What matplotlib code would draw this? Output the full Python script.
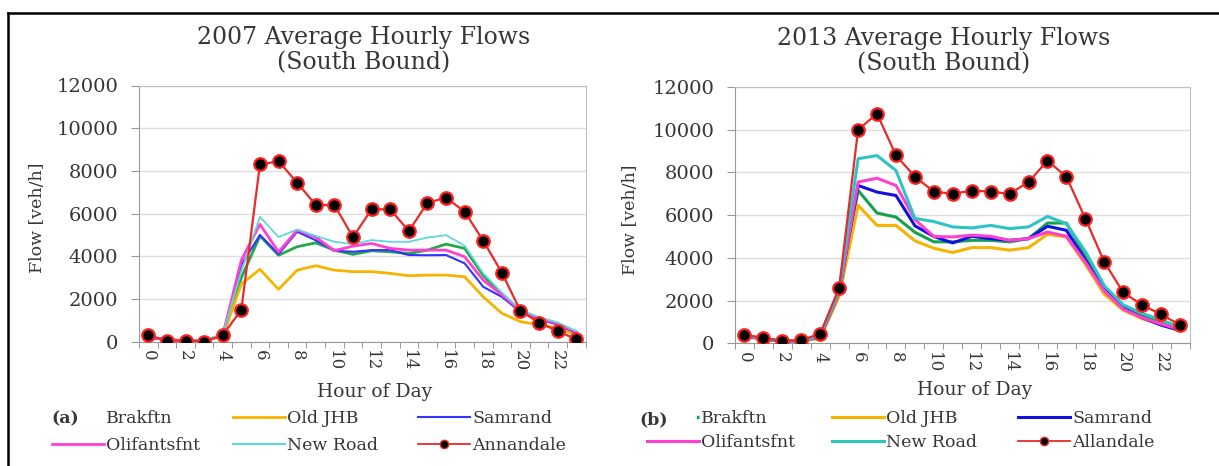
import numpy as np
import matplotlib.pyplot as plt
from matplotlib.lines import Line2D

# hour of day (categories) and tick labels
hours = list(range(24))
tick_hours = list(range(0, 24, 2))
tick_labels = [str(h) for h in tick_hours]
y_ticks = [0, 2000, 4000, 6000, 8000, 10000, 12000]

# 2007 south bound flows [veh/h]
brakftn_07 = [200, 100, 50, 50, 300, 3000, 4950, 4050, 4450, 4630, 4290, 4090,
              4260, 4210, 4130, 4290, 4570, 4370, 3100, 2200, 1400, 1100, 850, 450]
oldjhb_07 = [200, 100, 50, 50, 250, 2700, 3390, 2450, 3350, 3560, 3350, 3280,
             3280, 3200, 3090, 3120, 3120, 3040, 2100, 1330, 940, 800, 650, 300]
samrand_07 = [200, 100, 50, 50, 300, 3600, 5000, 4100, 5150, 4750, 4260, 4210,
              4290, 4290, 4060, 4050, 4060, 3670, 2570, 2100, 1400, 1050, 800, 400]
olifants_07 = [200, 100, 50, 50, 300, 3820, 5500, 4200, 5230, 4900, 4260, 4480,
               4600, 4370, 4290, 4290, 4290, 3980, 2880, 2200, 1450, 1100, 850, 450]
newroad_07 = [250, 100, 50, 50, 350, 3300, 5850, 4900, 5250, 4950, 4680, 4570,
              4760, 4680, 4680, 4880, 4990, 4500, 3200, 2300, 1500, 1150, 900, 500]
annandale_07 = [300, 50, 50, 0, 300, 1500, 8300, 8450, 7450, 6400, 6400, 4900,
                6200, 6200, 5180, 6500, 6750, 6090, 4730, 3230, 1440, 890, 500, 110]

# 2013 south bound flows [veh/h]
brakftn_13 = [350, 200, 100, 100, 300, 2400, 7160, 6100, 5910, 5200, 4750, 4750,
              4820, 4820, 4750, 4900, 5630, 5630, 4100, 2500, 1750, 1300, 1000, 650]
oldjhb_13 = [300, 200, 100, 100, 250, 2200, 6460, 5520, 5520, 4800, 4450, 4250,
             4480, 4480, 4360, 4480, 5100, 4980, 3700, 2300, 1550, 1150, 900, 650]
samrand_13 = [350, 200, 100, 100, 300, 2400, 7390, 7080, 6920, 5500, 5000, 4700,
              5010, 4900, 4820, 4900, 5480, 5290, 3900, 2500, 1650, 1200, 850, 600]
olifants_13 = [350, 200, 100, 100, 300, 2400, 7550, 7730, 7390, 5800, 5000, 4980,
               5060, 5010, 4820, 4900, 5210, 5010, 3800, 2450, 1600, 1200, 900, 650]
newroad_13 = [400, 200, 100, 100, 350, 2500, 8640, 8790, 8090, 5850, 5700, 5450,
              5400, 5520, 5370, 5450, 5940, 5600, 4300, 2700, 1800, 1400, 1100, 750]
allandale_13 = [400, 250, 100, 150, 450, 2600, 10000, 10750, 8800, 7800, 7100, 7000,
                7150, 7100, 7000, 7550, 8550, 7800, 5840, 3810, 2380, 1790, 1355, 855]

W, H = 1219, 466
TXT = '#363636'
RED = '#e82a2a'

plt.rcParams['font.family'] = ['DejaVu Serif']

fig = plt.figure(figsize=(W / 100, H / 100), dpi=100)


def rect(x0, y0, x1, y1):
    # pixel box -> figure fraction
    return [x0 / W, 1 - y1 / H, (x1 - x0) / W, (y1 - y0) / H]


def panel(ax, lines, red_vals):
    for vals, col, lw in lines:
        ax.plot(hours, vals, color=col, lw=lw, zorder=3)
    ax.plot(hours, red_vals, color=RED, lw=1.6, marker='o', ms=9,
            mfc='black', mec='#ff2020', mew=1.6, zorder=4)
    ax.set_xlim(-0.5, 23.5)
    ax.set_ylim(0, 12000)
    ax.set_yticks(y_ticks)
    ax.set_yticklabels([str(v) for v in y_ticks], fontsize=14, color=TXT)
    ax.set_xticks(tick_hours)
    ax.set_xticklabels(tick_labels, rotation=-90, fontsize=12, color=TXT,
                       va='top', ha='center')
    ax.set_xticks(np.arange(-0.5, 24, 1), minor=True)
    ax.tick_params(axis='x', which='major', length=0, pad=6)
    ax.tick_params(axis='x', which='minor', length=4, color='#888888', direction='out')
    ax.tick_params(axis='y', length=6, color='#999999', pad=9)
    ax.grid(axis='y', color='#dddddd', lw=1)
    ax.set_axisbelow(True)
    for s in ['left', 'bottom']:
        ax.spines[s].set_color('#999999')
    for s in ['top', 'right']:
        ax.spines[s].set_color('#c0c0c0')


ax1 = fig.add_axes(rect(139, 85.5, 585.6, 341.7))
panel(ax1, [(brakftn_07, '#22a84a', 2.0), (oldjhb_07, '#f5b400', 2.0),
            (samrand_07, '#3333ff', 1.5), (olifants_07, '#ff3fd0', 2.0),
            (newroad_07, '#5fd8d8', 1.3)], annandale_07)

ax2 = fig.add_axes(rect(735, 87, 1189.5, 343.3))
panel(ax2, [(brakftn_13, '#17a050', 2.2), (oldjhb_13, '#f5b400', 2.2),
            (samrand_13, '#1010e0', 2.2), (olifants_13, '#ff3fd0', 2.2),
            (newroad_13, '#2ec4c4', 2.2)], allandale_13)

# titles and axis labels
fig.text(364 / W, 1 - 50 / H, '2007 Average Hourly Flows\n(South Bound)',
         ha='center', va='center', fontsize=17, color=TXT, linespacing=1.1)
fig.text(944 / W, 1 - 51 / H, '2013 Average Hourly Flows\n(South Bound)',
         ha='center', va='center', fontsize=17, color=TXT, linespacing=1.1)
for x, y in [(375, 392), (975, 390)]:
    fig.text(x / W, 1 - y / H, 'Hour of Day', ha='center', va='center',
             fontsize=13.5, color=TXT)
for x, y in [(37, 218), (631, 220)]:
    fig.text(x / W, 1 - y / H, 'Flow [veh/h]', ha='center', va='center',
             rotation=90, fontsize=12.5, color=TXT)

fig.text(65 / W, 1 - 419 / H, '(a)', ha='center', va='center', fontsize=12.5,
         fontweight='bold', color=TXT)
fig.text(654 / W, 1 - 420 / H, '(b)', ha='center', va='center', fontsize=12.5,
         fontweight='bold', color=TXT)


def legend_col(handles, labels, x, y, spacing):
    fig.legend(handles, labels, loc='upper left', bbox_to_anchor=(x / W, 1 - y / H),
               frameon=False, fontsize=12.5, handlelength=3.0, handletextpad=0.12,
               borderpad=0, borderaxespad=0, labelspacing=spacing, labelcolor=TXT)


blank = Line2D([], [], color='none')
# tiny green tick just before the "Brakftn" text in (b)
dot = Line2D([], [], color='#17a050', lw=2.5, ls=(0, (0.01, 14.2, 0.9, 20)))
leg_a = [
    ([blank, Line2D([], [], color='#ff3fd0', lw=2)], ['Brakftn', 'Olifantsfnt'], 52),
    ([Line2D([], [], color='#f5b400', lw=2), Line2D([], [], color='#5fd8d8', lw=1.5)],
     ['Old JHB', 'New Road'], 233),
    ([Line2D([], [], color='#3333ff', lw=1.5),
      Line2D([], [], color=RED, lw=1.3, marker='o', ms=6, mfc='black', mec=RED)],
     ['Samrand', 'Annandale'], 418),
]
leg_b = [
    ([dot, Line2D([], [], color='#ff3fd0', lw=2.2)], ['Brakftn', 'Olifantsfnt'], 647),
    ([Line2D([], [], color='#f5b400', lw=2.2), Line2D([], [], color='#2ec4c4', lw=2.2)],
     ['Old JHB', 'New Road'], 832),
    ([Line2D([], [], color='#1010e0', lw=2.2),
      Line2D([], [], color=RED, lw=1.3, marker='o', ms=6, mfc='black', mec=RED)],
     ['Samrand', 'Allandale'], 1018),
]
for h, l, x in leg_a:
    legend_col(h, l, x, 410, 0.6)
for h, l, x in leg_b:
    legend_col(h, l, x, 410, 0.4)

# frame of the figure box (cut at right and bottom)
fig.add_artist(Line2D([8 / W, 8 / W], [0, 1 - 12.7 / H], color='black', lw=1.8,
                      transform=fig.transFigure))
fig.add_artist(Line2D([8 / W, 1], [1 - 12.7 / H, 1 - 12.7 / H], color='black', lw=1.8,
                      transform=fig.transFigure))

fig.savefig('out.png', dpi=100)
